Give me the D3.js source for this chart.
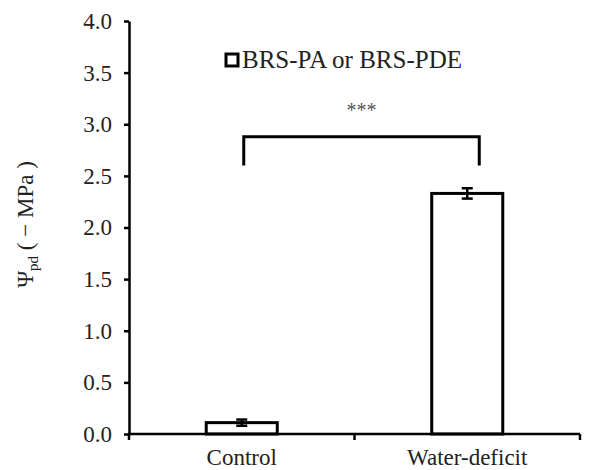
<!DOCTYPE html>
<html>
<head>
<meta charset="utf-8">
<script src="https://cdn.jsdelivr.net/npm/d3@7"></script>
<style>
  body { margin: 0; background: #fff; }
  svg text { font-family: "Liberation Serif", serif !important; }
</style>
</head>
<body>
<svg id="chart" width="600" height="470" font-family="Liberation Serif"></svg>
<script>
// data
const categories = ["Control", "Water-deficit"];
const means = [0.11, 2.33];
const errors = [0.03, 0.05];
const yTicks = [0, 0.5, 1, 1.5, 2, 2.5, 3, 3.5, 4];
const legendLabel = "BRS-PA or BRS-PDE";
const sigLabel = "***";
const bracketTop = 2.88;
const bracketFoot = 2.6;

const width = 600, height = 470;
const margin = {top: 21, right: 20, bottom: 36, left: 129};
const serif = "Liberation Serif";

const svg = d3.select("#chart");

const x = d3.scaleBand()
  .domain(categories)
  .range([margin.left, width - margin.right])
  .padding(0);

const y = d3.scaleLinear()
  .domain([0, 4])
  .range([height - margin.bottom, margin.top]);

const barW = x.bandwidth() * 0.315;

// bars
svg.append("g").selectAll("rect")
  .data(categories)
  .join("rect")
    .attr("x", d => x(d) + x.bandwidth() / 2 - barW / 2)
    .attr("y", (d, i) => y(means[i]))
    .attr("width", barW)
    .attr("height", (d, i) => y(0) - y(means[i]))
    .attr("fill", "#fff")
    .attr("stroke", "#000")
    .attr("stroke-width", 3);

// error bars
const eb = svg.append("g").attr("stroke", "#000").attr("stroke-width", 2.5);
categories.forEach((c, i) => {
  const cx = x(c) + x.bandwidth() / 2;
  const lo = y(means[i] - errors[i]), hi = y(means[i] + errors[i]);
  eb.append("line").attr("x1", cx).attr("x2", cx).attr("y1", lo).attr("y2", hi);
  eb.append("line").attr("x1", cx - 5.5).attr("x2", cx + 5.5).attr("y1", lo).attr("y2", lo);
  eb.append("line").attr("x1", cx - 5.5).attr("x2", cx + 5.5).attr("y1", hi).attr("y2", hi);
});

// y axis
const yAxis = svg.append("g")
  .attr("transform", `translate(${margin.left},0)`)
  .call(d3.axisLeft(y).tickValues(yTicks).tickFormat(d3.format(".1f")).tickSize(5).tickPadding(12).tickSizeOuter(0));
yAxis.attr("font-family", serif).attr("font-size", 23);
yAxis.selectAll("path, line").attr("stroke", "#000").attr("stroke-width", 2.5);
yAxis.selectAll("text")
  .attr("font-family", serif)
  .attr("fill", "#222");

// x axis, ticks on the category boundaries
const xa = svg.append("g").attr("stroke", "#000").attr("stroke-width", 2.5);
xa.append("line")
  .attr("x1", x.range()[0] - 1).attr("x2", x.range()[1])
  .attr("y1", y(0)).attr("y2", y(0));
const bounds = categories.map(c => x(c)).concat([x.range()[1]]);
xa.selectAll("line.tick")
  .data(bounds)
  .join("line")
    .attr("class", "tick")
    .attr("x1", d => d).attr("x2", d => d)
    .attr("y1", y(0)).attr("y2", y(0) + 6);

svg.append("g").selectAll("text")
  .data(categories)
  .join("text")
    .attr("x", d => x(d) + x.bandwidth() / 2)
    .attr("y", y(0) + 31)
    .attr("text-anchor", "middle")
    .attr("font-family", serif)
    .attr("font-size", 23)
    .attr("fill", "#222")
    .text(d => d);

// y axis title
const yl = svg.append("text")
  .attr("transform", `translate(33,${(y(0) + y(4)) / 2 - 3}) rotate(-90)`)
  .attr("text-anchor", "middle")
  .attr("font-family", serif)
  .attr("font-size", 23)
  .attr("fill", "#222");
yl.append("tspan").text("Ψ");
yl.append("tspan").attr("font-size", 15).attr("dy", 5).text("pd");
yl.append("tspan").attr("dy", -5).text(" ( − MPa )");

// significance bracket
const x1 = x(categories[0]) + x.bandwidth() / 2 + 2;
const x2 = x(categories[1]) + x.bandwidth() / 2 + 12;
svg.append("path")
  .attr("d", `M${x1},${y(bracketFoot)}V${y(bracketTop)}H${x2}V${y(bracketFoot)}`)
  .attr("fill", "none")
  .attr("stroke", "#000")
  .attr("stroke-width", 3);
svg.append("text")
  .attr("x", (x1 + x2) / 2)
  .attr("y", y(bracketTop) - 20)
  .attr("text-anchor", "middle")
  .attr("font-family", serif)
  .attr("font-size", 20)
  .attr("fill", "#555")
  .text(sigLabel);

// legend
const lg = svg.append("g").attr("transform", "translate(226,54)");
lg.append("rect")
  .attr("width", 12).attr("height", 12)
  .attr("fill", "#fff").attr("stroke", "#000").attr("stroke-width", 3);
lg.append("text")
  .attr("x", 16).attr("y", 13.5)
  .attr("font-family", serif)
  .attr("font-size", 25)
  .attr("fill", "#222")
  .text(legendLabel);
</script>
</body>
</html>
